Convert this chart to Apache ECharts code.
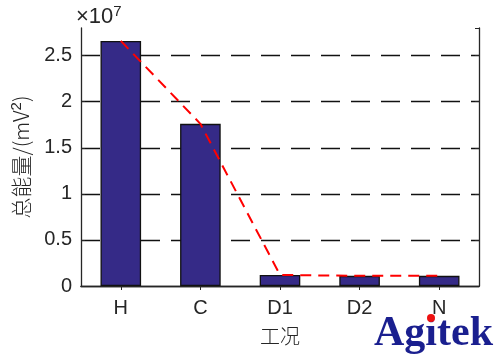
<!DOCTYPE html>
<html>
<head>
<meta charset="utf-8">
<script src="https://cdn.jsdelivr.net/npm/echarts@6/dist/echarts.min.js"></script>
<style>html,body{margin:0;padding:0;background:#fff;}#c{width:500px;height:357px;}</style>
</head>
<body>
<div id="c"></div>
<script>
var categories = ['H', 'C', 'D1', 'D2', 'N'];
var energyValues = [2.66e7, 1.76e7, 1.2e6, 1.1e6, 1.1e6];
var trendValues = [2.66e7, 1.76e7, 1.2e6, 1.1e6, 1.1e6];
var yTickLabels = ['0', '0.5', '1', '1.5', '2', '2.5'];
var yMax = 2.8e7;
var yStep = 0.5e7;

var chart = echarts.init(document.getElementById('c'), null, {renderer: 'canvas'});
var axisColor = '#262626';
var font = '"Liberation Sans", Arial, sans-serif';
var cjk = '"Noto Sans CJK SC", sans-serif';

var option = {
  animation: false,
  backgroundColor: '#ffffff',
  grid: {left: 81, right: 21, top: 28, bottom: 71, containLabel: false},
  xAxis: [{
    type: 'category', data: categories, position: 'bottom',
    axisLine: {lineStyle: {color: axisColor, width: 1.3}},
    axisTick: {show: false},
    axisLabel: {color: axisColor, fontFamily: font, fontSize: 20, margin: 12},
    name: '工况', nameLocation: 'middle', nameGap: 40,
    nameTextStyle: {color: axisColor, fontFamily: cjk, fontSize: 20, verticalAlign: 'top', fontWeight: 300}
  }, {
    type: 'category', data: categories, position: 'top',
    axisLine: {lineStyle: {color: axisColor, width: 1.3}},
    axisTick: {show: true, inside: true, alignWithLabel: true, length: 4, lineStyle: {color: axisColor}},
    axisLabel: {show: false}
  }],
  yAxis: [{
    type: 'value', min: 0, max: yMax, interval: yStep, position: 'left',
    axisLine: {show: true, lineStyle: {color: axisColor, width: 1.3}},
    axisTick: {show: true, inside: true, length: 4, lineStyle: {color: axisColor}},
    axisLabel: {color: axisColor, fontFamily: font, fontSize: 20, margin: 9, showMaxLabel: false,
      formatter: function (v) { var i = Math.round(v / yStep); return (Math.abs(v - i * yStep) < 1 && i < yTickLabels.length) ? yTickLabels[i] : ''; }},
    splitLine: {show: true, showMinLine: false, showMaxLine: false, lineStyle: {color: '#111', width: 1.3, type: [19, 11]}},
    name: '{n|总能量/(mV}{s|2}{n|)}', nameLocation: 'middle', nameGap: 47, nameRotate: 90,
    nameTextStyle: {rich: {
      n: {color: axisColor, fontFamily: cjk, fontSize: 21, fontWeight: 300},
      s: {color: axisColor, fontFamily: font, fontSize: 15, padding: [0, 0, 10, 0]}
    }}
  }, {
    type: 'value', min: 0, max: yMax, interval: yStep, position: 'right',
    axisLine: {show: true, lineStyle: {color: axisColor, width: 1.3}},
    axisTick: {show: true, inside: true, length: 4, lineStyle: {color: axisColor}},
    axisLabel: {show: false},
    splitLine: {show: false}
  }],
  graphic: [
    {type: 'text', left: 76, top: 4, style: {
      text: '{a|×10}{b|7}',
      rich: {
        a: {fontFamily: font, fontSize: 22, fill: axisColor},
        b: {fontFamily: font, fontSize: 15, fill: axisColor, padding: [0, 0, 11, 0]}
      }}},
    {type: 'text', left: 374, top: 313, z: 10, style: {
      text: 'Agitek', fontFamily: '"Liberation Serif", "Times New Roman", serif',
      fontWeight: 'bold', fontSize: 42, fill: '#1a1f8f'}},
    {type: 'circle', shape: {cx: 431, cy: 318, r: 4}, z: 11, style: {fill: '#ee1111'}}
  ],
  series: [{
    type: 'bar', data: energyValues, xAxisIndex: 0, yAxisIndex: 0,
    barCategoryGap: '49%',
    itemStyle: {color: '#352a87', borderColor: '#111', borderWidth: 1.3},
    z: 3
  }, {
    type: 'line', data: trendValues, xAxisIndex: 0, yAxisIndex: 0,
    symbol: 'none', z: 5,
    lineStyle: {color: '#ff0000', width: 2, type: [11, 7]}
  }]
};
chart.setOption(option);
</script>
</body>
</html>
